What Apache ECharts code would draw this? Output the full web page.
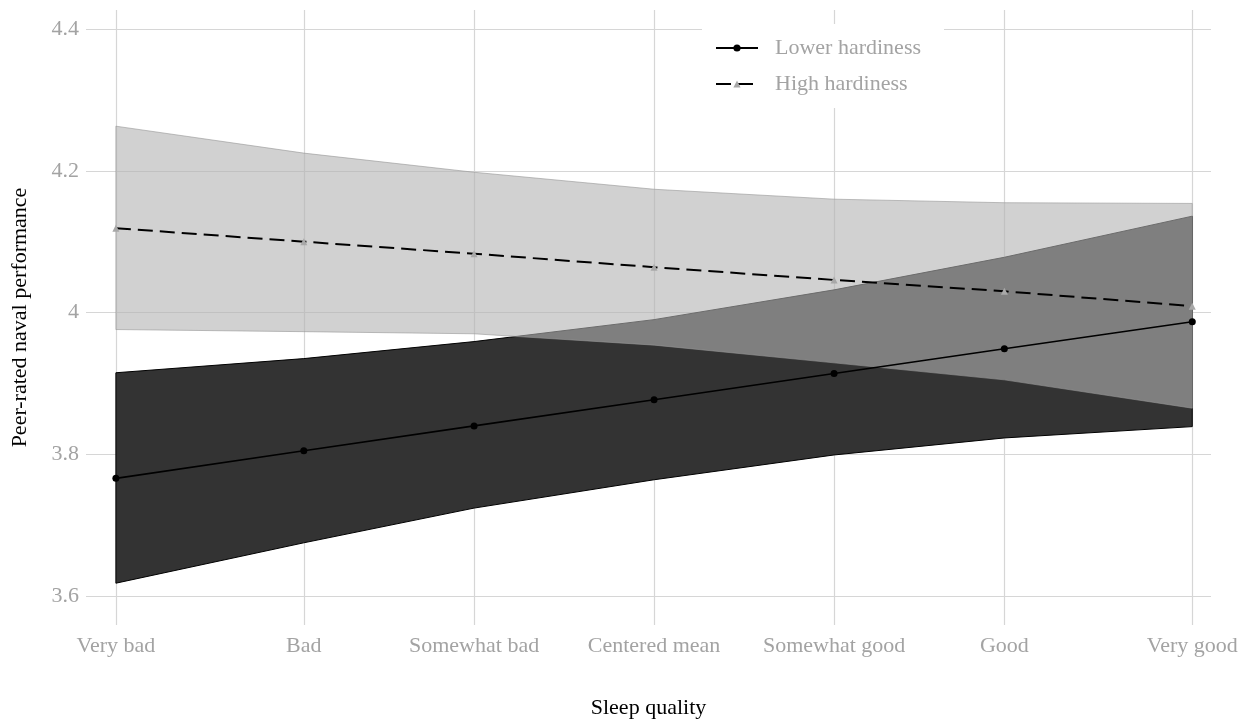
<!DOCTYPE html>
<html>
<head>
<meta charset="utf-8">
<script src="https://cdn.jsdelivr.net/npm/echarts@6.0.0/dist/echarts.min.js"></script>
<style>
html,body{margin:0;padding:0;background:#fff;}
#chart{width:1257px;height:722px;}
</style>
</head>
<body>
<div id="chart"></div>
<script>
// Category labels and their positions on the x scale
var categories = ['Very bad', 'Bad', 'Somewhat bad', 'Centered mean', 'Somewhat good', 'Good', 'Very good'];
var xPositions = [-2.99, -1.946, -1, 0, 1, 1.946, 2.99];
var yTicks = [3.6, 3.8, 4.0, 4.2, 4.4];

// Lower hardiness: predicted mean and confidence band
var lowerMean = [3.766, 3.805, 3.840, 3.877, 3.914, 3.949, 3.987];
var lowerLo   = [3.618, 3.675, 3.724, 3.764, 3.799, 3.823, 3.839];
var lowerHi   = [3.915, 3.935, 3.959, 3.990, 4.032, 4.078, 4.136];

// High hardiness: predicted mean and confidence band
var highMean = [4.119, 4.100, 4.083, 4.064, 4.046, 4.030, 4.009];
var highLo   = [3.976, 3.973, 3.970, 3.954, 3.929, 3.905, 3.865];
var highHi   = [4.263, 4.225, 4.198, 4.174, 4.160, 4.155, 4.154];

var FONT = 'Liberation Serif';

function pairs(xs, ys) { return xs.map(function (x, i) { return [x, ys[i]]; }); }
function bandData(lo, hi) { return xPositions.map(function (x, i) { return [x, lo[i], hi[i]]; }); }

function bandRenderer(lo, hi, style) {
  return function (params, api) {
    if (params.dataIndex !== 0) return null;
    var pts = [];
    for (var i = 0; i < xPositions.length; i++) pts.push(api.coord([xPositions[i], hi[i]]));
    for (var j = xPositions.length - 1; j >= 0; j--) pts.push(api.coord([xPositions[j], lo[j]]));
    return { type: 'polygon', shape: { points: pts }, style: style };
  };
}

function catLabel(v) {
  var best = 0, bd = Infinity;
  for (var i = 0; i < xPositions.length; i++) {
    var d = Math.abs(xPositions[i] - v);
    if (d < bd) { bd = d; best = i; }
  }
  return categories[best];
}

var chart = echarts.init(document.getElementById('chart'));
chart.setOption({
  animation: false,
  backgroundColor: '#ffffff',
  grid: { left: 86, right: 46, top: 10, bottom: 97, containLabel: false, outerBoundsMode: 'none' },
  legend: {
    orient: 'vertical',
    left: 702,
    top: 24,
    padding: [13, 23, 13, 13],
    backgroundColor: '#ffffff',
    itemWidth: 42,
    itemHeight: 9,
    itemGap: 14,
    data: ['Lower hardiness', 'High hardiness'],
    textStyle: { fontFamily: FONT, fontSize: 22, color: '#a3a3a3', lineHeight: 22, padding: [0, 0, 0, 12] }
  },
  xAxis: {
    type: 'value',
    min: -3.156,
    max: 3.094,
    name: 'Sleep quality',
    nameLocation: 'middle',
    nameGap: 72,
    nameTextStyle: { fontFamily: FONT, fontSize: 22, color: '#000000' },
    axisLine: { show: false },
    axisTick: { show: false, customValues: xPositions },
    axisLabel: {
      customValues: xPositions,
      formatter: function (v) { return catLabel(v); },
      fontFamily: FONT, fontSize: 22, color: '#a3a3a3', margin: 10
    },
    splitLine: { show: true, lineStyle: { color: '#d6d6d6', width: 1.2 } }
  },
  yAxis: {
    type: 'value',
    min: 3.559,
    max: 4.427,
    name: 'Peer-rated naval performance',
    nameLocation: 'middle',
    nameGap: 55,
    nameTextStyle: { fontFamily: FONT, fontSize: 22, color: '#000000' },
    axisLine: { show: false },
    axisTick: { show: false, customValues: yTicks },
    axisLabel: {
      customValues: yTicks,
      formatter: function (v) { return String(Math.round(v * 10) / 10); },
      fontFamily: FONT, fontSize: 22, color: '#a3a3a3', margin: 7,
      padding: [2, 0, 0, 0]
    },
    splitLine: { show: true, lineStyle: { color: '#d6d6d6', width: 1.2 } }
  },
  series: [
    {
      name: 'Lower band',
      type: 'custom',
      data: bandData(lowerLo, lowerHi),
      encode: { x: 0, y: [1, 2] },
      renderItem: bandRenderer(lowerLo, lowerHi, { fill: '#333333', stroke: '#000000', lineWidth: 1 }),
      z: 1,
      silent: true
    },
    {
      name: 'High band',
      type: 'custom',
      data: bandData(highLo, highHi),
      encode: { x: 0, y: [1, 2] },
      renderItem: bandRenderer(highLo, highHi, { fill: 'rgba(179,179,179,0.6)', stroke: 'rgba(150,150,150,0.6)', lineWidth: 1 }),
      z: 1,
      silent: true
    },
    {
      name: 'Lower hardiness',
      type: 'line',
      data: pairs(xPositions, lowerMean),
      symbol: 'circle',
      symbolSize: 7,
      showSymbol: true,
      itemStyle: { color: '#000000' },
      lineStyle: { color: '#000000', width: 1.6, type: 'solid' },
      z: 3
    },
    {
      name: 'High hardiness',
      type: 'line',
      data: pairs(xPositions, highMean),
      symbol: 'triangle',
      symbolSize: 7,
      showSymbol: true,
      itemStyle: { color: '#a8a8a8' },
      lineStyle: { color: '#000000', width: 2, type: [15, 7] },
      z: 3
    }
  ]
});
</script>
</body>
</html>
